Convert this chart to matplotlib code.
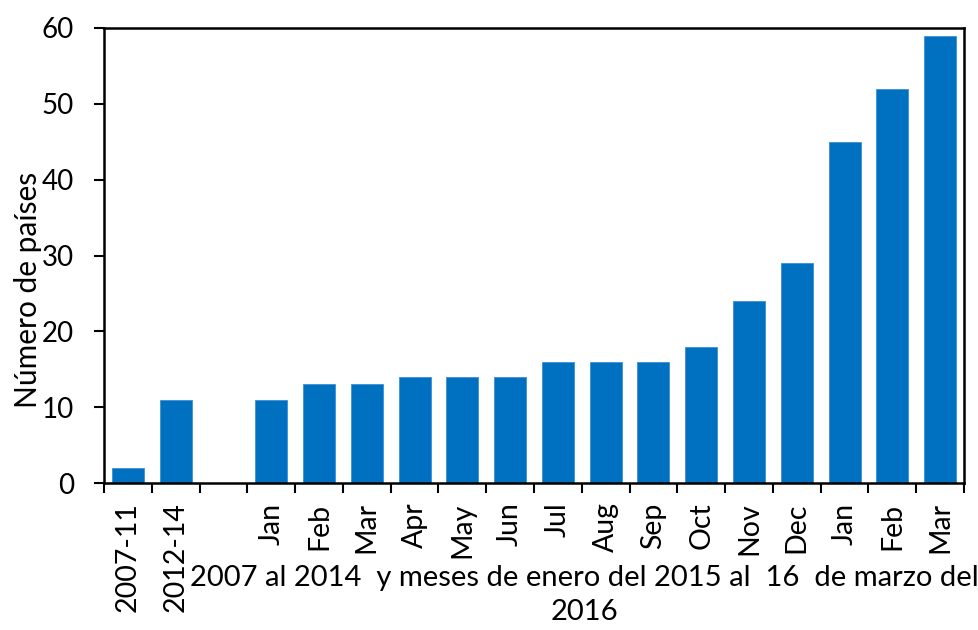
import matplotlib
matplotlib.use("Agg")
import matplotlib.pyplot as plt
import numpy as np

categories = ["2007-11", "2012-14", "", "Jan", "Feb", "Mar", "Apr", "May", "Jun",
              "Jul", "Aug", "Sep", "Oct", "Nov", "Dec", "Jan", "Feb", "Mar"]
values = [2, 11, 0, 11, 13, 13, 14, 14, 14, 16, 16, 16, 18, 24, 29, 45, 52, 59]
yticks = [0, 10, 20, 30, 40, 50, 60]

plt.rcParams['font.family'] = ['Lato', 'DejaVu Sans']

W, H = 979, 630
fig = plt.figure(figsize=(W/100, H/100), dpi=100)
ax = fig.add_axes([104/W, 1-483/H, (964-104)/W, (483-28)/H])

x = np.arange(len(categories))
ax.bar(x, values, width=0.67, color="#0070C0", edgecolor="#3d8fd0", linewidth=0.6, zorder=2)
ax.set_xlim(-0.5, len(categories)-0.5)
ax.set_ylim(0, 60)
ax.set_yticks(yticks)
ax.set_yticklabels([str(v) for v in yticks], fontsize=20)
ax.set_xticks(x)
ax.set_xticklabels(categories, rotation=90, fontsize=20.5)
ax.tick_params(axis='x', which='major', length=0, pad=14)
ax.set_xticks(np.arange(-0.5, len(categories)), minor=True)
ax.tick_params(axis='x', which='minor', length=7.5, width=1.5, direction='out')
ax.tick_params(axis='y', length=7.5, width=1.5, direction='out', pad=14)
for s in ax.spines.values():
    s.set_linewidth(1.8)

fig.text(584/W, 1-578/H, "2007 al 2014  y meses de enero del 2015 al  16  de marzo del",
         ha='center', va='center', fontsize=21)
fig.text(584/W, 1-612/H, "2016", ha='center', va='center', fontsize=21)
fig.text(28/W, 1-290/H, "Número de países", rotation=90, ha='center', va='center', fontsize=21.5)

fig.savefig("out.png", dpi=100)
